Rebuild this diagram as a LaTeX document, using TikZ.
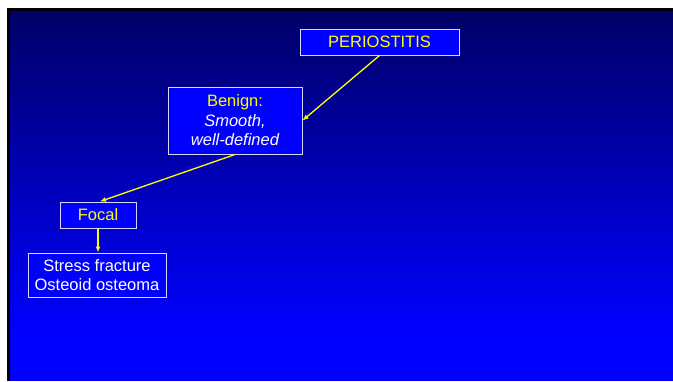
\documentclass[tikz,border=0pt]{standalone}
\usepackage{fontspec}
\setmainfont{Liberation Sans}
\usetikzlibrary{arrows.meta}
\definecolor{navy}{RGB}{0,0,102}
\definecolor{pureblue}{RGB}{0,0,255}
\definecolor{boxline}{RGB}{215,215,255}
\definecolor{yel}{RGB}{255,255,0}
\tikzset{
  box/.style={draw=boxline, line width=1pt, fill=pureblue, inner sep=0pt, align=center,
    font=\fontsize{16.5}{19.5}\selectfont},
  conn/.style={draw=yel, line width=1.3pt, -{Latex[length=6pt,width=5pt]}}
}
\begin{document}
\begin{tikzpicture}[x=1pt,y=-1pt]
\useasboundingbox (0,0) rectangle (673,381);
\fill[white] (0,0) rectangle (673,381);
\shade[top color=navy, bottom color=pureblue] (10,11) rectangle (673,330);
\fill[pureblue] (10,329.5) rectangle (673,381);
\fill[black] (7,8) rectangle (673,11);
\fill[black] (7,8) rectangle (10,381);
\node[box, minimum width=159pt, minimum height=26pt, text=yel] (p) at (379.5,42) {PERIOSTITIS};
\node[box, minimum width=134pt, minimum height=67pt] (b) at (235,120.5)
  {\textcolor{yel}{Benign:}\\\textcolor{white}{\itshape Smooth,}\\\textcolor{white}{\itshape well-defined}};
\node[box, minimum width=76pt, minimum height=26pt, text=yel] (f) at (98,215) {Focal};
\node[box, minimum width=138pt, minimum height=44pt, text=white] (s) at (97,275) {Stress fracture\\Osteoid osteoma};
\draw[conn] (p.south) -- (b.east);
\draw[conn] (b.south) -- ([xshift=2pt]f.north);
\draw[conn] (f.south) -- (f.south |- s.north);
\end{tikzpicture}
\end{document}
